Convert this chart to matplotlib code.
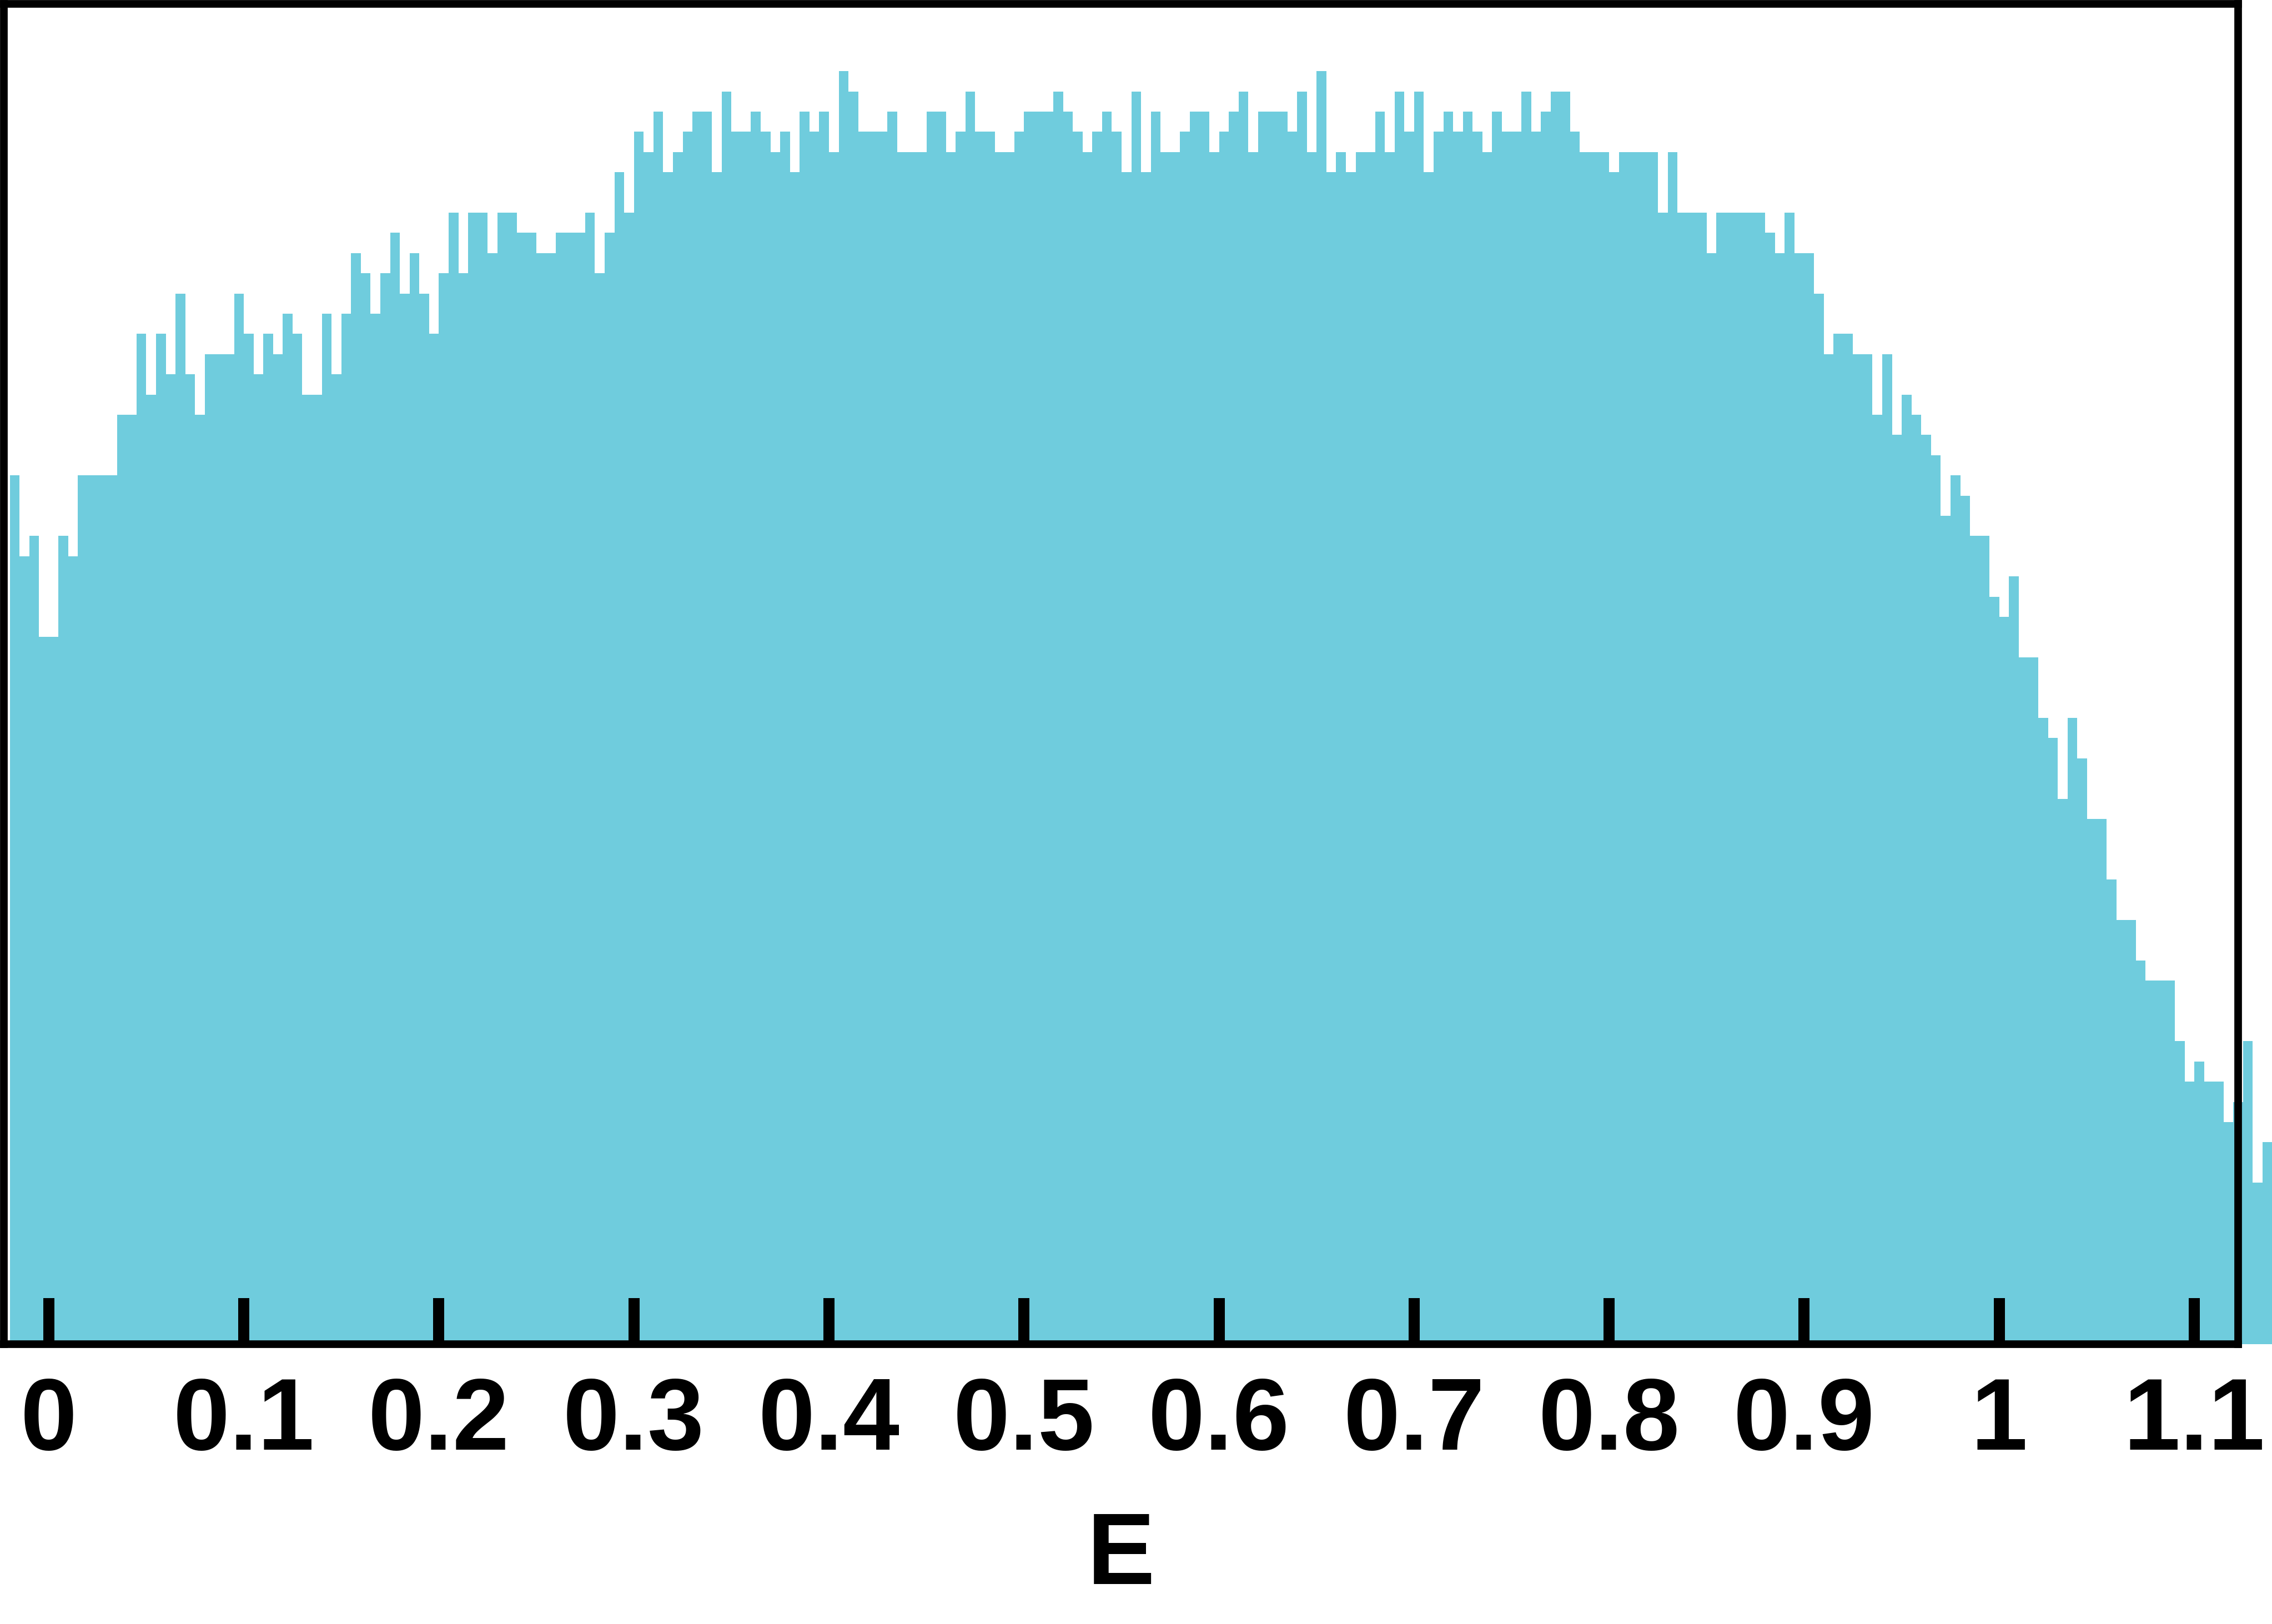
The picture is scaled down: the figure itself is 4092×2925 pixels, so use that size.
import numpy as np
import matplotlib
matplotlib.use("Agg")
import matplotlib.pyplot as plt
from matplotlib import font_manager as fm

# Histogram of E: bin width 0.005, first bin starts at -0.02
bin_start = -0.02
bin_width = 0.005
counts = [
    43, 39, 40, 35, 35, 40, 39, 43, 43, 43,
    43, 46, 46, 50, 47, 50, 48, 52, 48, 46,
    49, 49, 49, 52, 50, 48, 50, 49, 51, 50,
    47, 47, 51, 48, 51, 54, 53, 51, 53, 55,
    52, 54, 52, 50, 53, 56, 53, 56, 56, 54,
    56, 56, 55, 55, 54, 54, 55, 55, 55, 56,
    53, 55, 58, 56, 60, 59, 61, 58, 59, 60,
    61, 61, 58, 62, 60, 60, 61, 60, 59, 60,
    58, 61, 60, 61, 59, 63, 62, 60, 60, 60,
    61, 59, 59, 59, 61, 61, 59, 60, 62, 60,
    60, 59, 59, 60, 61, 61, 61, 62, 61, 60,
    59, 60, 61, 60, 58, 62, 58, 61, 59, 59,
    60, 61, 61, 59, 60, 61, 62, 59, 61, 61,
    61, 60, 62, 59, 63, 58, 59, 58, 59, 59,
    61, 59, 62, 60, 62, 58, 60, 61, 60, 61,
    60, 59, 61, 60, 60, 62, 60, 61, 62, 62,
    60, 59, 59, 59, 58, 59, 59, 59, 59, 56,
    59, 56, 56, 56, 54, 56, 56, 56, 56, 56,
    55, 54, 56, 54, 54, 52, 49, 50, 50, 49,
    49, 46, 49, 45, 47, 46, 45, 44, 41, 43,
    42, 40, 40, 37, 36, 38, 34, 34, 31, 30,
    27, 31, 29, 26, 26, 23, 21, 21, 19, 18,
    18, 18, 15, 13, 14, 13, 13, 11, 12, 15,
    8, 10,
]
tick_values = [0, 0.1, 0.2, 0.3, 0.4, 0.5, 0.6, 0.7, 0.8, 0.9, 1.0, 1.1]
tick_labels = ["0", "0.1", "0.2", "0.3", "0.4", "0.5", "0.6", "0.7", "0.8", "0.9", "1", "1.1"]
x_label = "E"

bar_color = "#6FCCDD"

# pick an Arial-like bold font that is really installed
bold_prop = None
for entry in fm.fontManager.ttflist:
    if entry.name in ("Liberation Sans", "Arial") and entry.weight in (700, "bold") \
            and entry.style == "normal":
        bold_prop = fm.FontProperties(fname=entry.fname, size=44)
        break
if bold_prop is None:
    bold_prop = fm.FontProperties(family=["Liberation Sans", "DejaVu Sans"],
                                  weight="bold", size=44)

fig = plt.figure(figsize=(13.64, 9.75), dpi=300)
ax = fig.add_axes([0.00171, 0.17214, 0.98509 - 0.00171, 0.99761 - 0.17214])

left_edges = bin_start + bin_width * np.arange(len(counts))
ax.bar(left_edges, counts, width=bin_width, align="edge", color=bar_color,
       linewidth=0, clip_on=False, zorder=1)

ax.set_xlim(-0.0230, 1.12246)
ax.set_ylim(0, 66.33)

ax.set_xticks(tick_values)
ax.set_xticklabels(tick_labels, fontproperties=bold_prop)
ax.set_yticks([])
ax.tick_params(axis="x", direction="in", length=20, width=4.8, pad=13.5,
               top=False, bottom=True, color="black")

for s in ax.spines.values():
    s.set_linewidth(3.3)
    s.set_color("black")
    s.set_zorder(3)

ax.set_xlabel(x_label, fontproperties=bold_prop, labelpad=17)

fig.savefig("out.png", dpi=300, facecolor="white")
